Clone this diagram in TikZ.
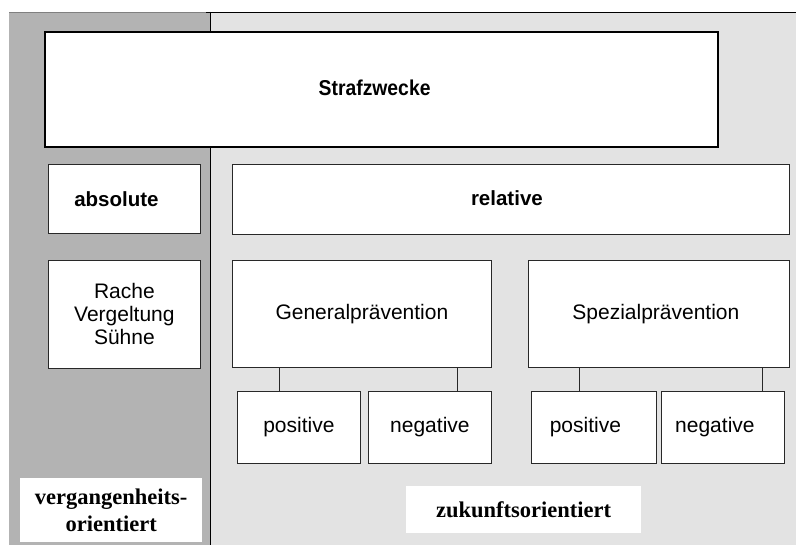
\documentclass[tikz,border=0pt]{standalone}
\usepackage{fontspec}
\setmainfont{Liberation Serif}
\setsansfont{Liberation Sans}
\newfontfamily\headfont[FakeStretch=0.9]{Liberation Sans}
\usepackage{tikz}
\usetikzlibrary{positioning}
\definecolor{past}{RGB}{179, 179, 179}
\definecolor{future}{RGB}{227, 227, 227}
\definecolor{frame}{RGB}{40, 40, 40}
\tikzset{
    box/.style={rectangle, draw=frame, fill=white, line width=0.8pt, inner sep=0pt, anchor=north west, align=center, font=\sffamily\fontsize{21}{23}\selectfont},
    headbox/.style={box, draw=black, line width=2.2pt, font=\headfont\bfseries\fontsize{21.5}{23}\selectfont},
    boldbox/.style={box, font=\sffamily\bfseries\fontsize{20.5}{23}\selectfont},
    tag/.style={rectangle, fill=white, inner sep=0pt, anchor=north west, align=center, font=\rmfamily\bfseries\fontsize{22.5}{27}\selectfont},
    link/.style={draw=frame, line width=0.8pt},
}

\begin{document}
\begin{tikzpicture}[x=1pt, y=-1pt]
\useasboundingbox (0,0) rectangle (797,545);

% Hintergrund: vergangenheits- und zukunftsorientiert
\fill[past] (9,12) rectangle (210,545);
\fill[future] (210,12) rectangle (796,545);
\draw[black!50, line width=1pt] (9,12.5) -- (207,12.5);
\draw[black, line width=1.6pt] (206,12.5) -- (796,12.5);
\draw[black, line width=1pt] (210,12) -- (210,545);

\node[headbox, minimum width=673pt, minimum height=115pt] (zweck) at (44,31) {\raisebox{3pt}{Strafzwecke}\hspace*{14pt}};

\node[boldbox, minimum width=152pt, minimum height=69pt] (abs) at (48,164) {absolute\hspace*{16pt}};
\node[boldbox, minimum width=557pt, minimum height=70pt] (rel) at (232,164) {\raisebox{2pt}{relative}\hspace*{8pt}};

\node[box, minimum width=152pt, minimum height=108pt] (rache) at (48,260) {Rache\\Vergeltung\\Sühne};

\node[box, minimum width=259pt, minimum height=107pt] (gen) at (232,260) {Generalprävention};
\node[box, minimum width=261pt, minimum height=107pt] (spez) at (528,260) {Spezialprävention\hspace*{6pt}};

\node[box, minimum width=123pt, minimum height=72pt] (genpos) at (237,391) {positive};
\node[box, minimum width=123pt, minimum height=72pt] (genneg) at (368,391) {negative};
\node[box, minimum width=125pt, minimum height=72pt] (spezpos) at (531,391) {positive\hspace*{17pt}};
\node[box, minimum width=123pt, minimum height=72pt] (spezneg) at (661,391) {negative\hspace*{16pt}};

% Verbindungen
\draw[link] ([xshift=47pt]gen.south west) -- ([xshift=47pt]gen.south west |- genpos.north);
\draw[link] ([xshift=-34pt]gen.south east) -- ([xshift=-34pt]gen.south east |- genneg.north);
\draw[link] ([xshift=51pt]spez.south west) -- ([xshift=51pt]spez.south west |- spezpos.north);
\draw[link] ([xshift=-27pt]spez.south east) -- ([xshift=-27pt]spez.south east |- spezneg.north);

\node[tag, minimum width=182pt, minimum height=64pt] (verg) at (20,478) {vergangenheits-\\orientiert};
\node[tag, minimum width=235pt, minimum height=47pt] (zuk) at (406,486) {zukunftsorientiert};
\end{tikzpicture}
\end{document}
